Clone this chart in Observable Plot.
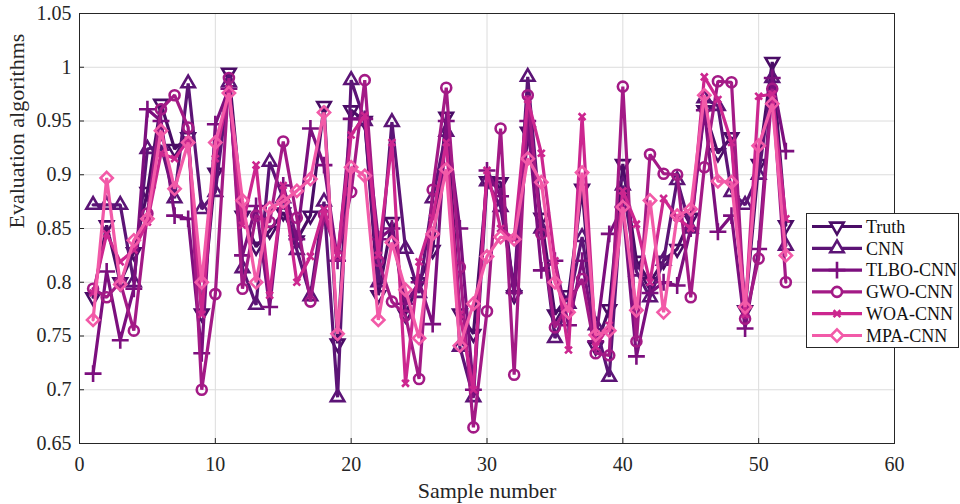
<!DOCTYPE html>
<html><head><meta charset="utf-8">
<script src="https://cdn.jsdelivr.net/npm/d3@7"></script>
<script src="https://cdn.jsdelivr.net/npm/@observablehq/plot@0.6"></script>
<style>
body{margin:0;background:#fff;font-family:"Liberation Serif","DejaVu Serif",serif;}
#wrap{position:relative;width:960px;height:504px;}
#legend{position:absolute;left:806px;top:213px;}
</style>
</head><body>
<div id="wrap"><div id="chart"></div><div id="legend"></div></div>
<script>
const samples = d3.range(1, 53);
const seriesNames = ["Truth","CNN","TLBO-CNN","GWO-CNN","WOA-CNN","MPA-CNN"];
const seriesColors = ["#4a0c66","#5c1476","#7c0f7e","#a31a86","#cc268f","#f25aa8"];
const truth = [0.786,0.853,0.800,0.828,0.884,0.966,0.924,0.935,0.771,0.902,0.995,0.862,0.833,0.848,0.865,0.839,0.862,0.964,0.743,0.960,0.950,0.788,0.856,0.770,0.800,0.830,0.954,0.771,0.752,0.894,0.893,0.788,0.940,0.860,0.770,0.788,0.887,0.740,0.775,0.910,0.820,0.800,0.820,0.831,0.860,0.960,0.920,0.935,0.774,0.910,1.005,0.853];
const cnn = [0.872,0.872,0.872,0.800,0.924,0.927,0.878,0.985,0.868,0.884,0.986,0.813,0.779,0.912,0.878,0.830,0.787,0.875,0.693,0.988,0.950,0.800,0.949,0.831,0.790,0.878,0.940,0.740,0.693,0.894,0.870,0.795,0.991,0.850,0.748,0.780,0.842,0.760,0.712,0.890,0.810,0.786,0.820,0.895,0.850,0.971,0.964,0.884,0.872,0.900,0.990,0.834];
const tlbo = [0.715,0.810,0.746,0.794,0.961,0.950,0.862,0.859,0.734,0.947,0.980,0.825,0.871,0.777,0.890,0.840,0.943,0.909,0.820,0.952,0.952,0.840,0.850,0.780,0.800,0.761,0.950,0.850,0.700,0.904,0.880,0.790,0.950,0.811,0.820,0.760,0.820,0.745,0.845,0.870,0.731,0.790,0.800,0.797,0.850,0.960,0.847,0.862,0.757,0.831,0.990,0.922];
const gwo = [0.794,0.786,0.800,0.755,0.864,0.961,0.974,0.944,0.700,0.789,0.990,0.794,0.862,0.856,0.931,0.860,0.782,0.863,0.825,0.884,0.988,0.820,0.782,0.769,0.710,0.886,0.981,0.814,0.665,0.773,0.943,0.714,0.974,0.845,0.758,0.780,0.803,0.734,0.732,0.982,0.745,0.919,0.901,0.900,0.786,0.907,0.987,0.986,0.766,0.822,0.980,0.800];
const woa = [0.790,0.845,0.819,0.830,0.856,0.920,0.915,0.932,0.770,0.915,0.980,0.853,0.909,0.788,0.890,0.800,0.824,0.868,0.825,0.937,0.955,0.825,0.930,0.706,0.819,0.860,0.930,0.770,0.700,0.904,0.850,0.840,0.970,0.920,0.820,0.737,0.954,0.740,0.760,0.885,0.854,0.800,0.878,0.860,0.850,0.991,0.970,0.930,0.770,0.973,0.975,0.859];
const mpa = [0.765,0.897,0.798,0.839,0.859,0.941,0.887,0.930,0.800,0.930,0.976,0.876,0.800,0.869,0.875,0.885,0.896,0.958,0.752,0.907,0.899,0.765,0.837,0.793,0.748,0.845,0.905,0.741,0.780,0.824,0.842,0.840,0.915,0.893,0.800,0.772,0.902,0.751,0.755,0.870,0.774,0.876,0.772,0.862,0.868,0.974,0.894,0.893,0.777,0.927,0.966,0.825];
const xTicks = [0,10,20,30,40,50,60];
const yTicks = [0.65,0.7,0.75,0.8,0.85,0.9,0.95,1,1.05];
const xLabel = "Sample number";
const yLabel = "Evaluation algorithms";

const downTriangle = {
  draw(context, size) {
    const y = -Math.sqrt(size / (Math.sqrt(3) * 3));
    context.moveTo(0, -y * 2);
    context.lineTo(-Math.sqrt(3) * y, y);
    context.lineTo(Math.sqrt(3) * y, y);
    context.closePath();
  }
};
const symbols = [downTriangle, "triangle", "plus", "circle", "times", "diamond2"];
const radii = [5, 5, 5.5, 5, 3.2, 5.5];
const allValues = [truth, cnn, tlbo, gwo, woa, mpa];
const data = allValues.map((vals, k) => samples.map((s, i) => ({sample: s, value: vals[i], series: seriesNames[k]})));

const marks = [
  Plot.gridX(xTicks, {stroke: "#dcdcdc", strokeOpacity: 1}),
  Plot.gridY(yTicks, {stroke: "#dcdcdc", strokeOpacity: 1}),
  Plot.frame({stroke: "#262626"}),
  Plot.axisX({ticks: xTicks, tickSize: -5, tickPadding: 18, fontSize: 20, label: null, stroke: "#262626"}),
  Plot.axisY({ticks: yTicks, tickSize: -5, tickPadding: 13, fontSize: 20, tickFormat: d => String(+d.toFixed(2)), label: null, stroke: "#262626"}),
  Plot.text([xLabel], {text: d => d, frameAnchor: "bottom", lineAnchor: "middle", dy: 47, fontSize: 22, fill: "#262626"}),
  Plot.text([yLabel], {text: d => d, frameAnchor: "left", lineAnchor: "middle", rotate: -90, dx: -63, fontSize: 22, fill: "#262626"})
];
data.forEach((d, k) => {
  marks.push(Plot.line(d, {x: "sample", y: "value", stroke: seriesColors[k], strokeWidth: 3.2, strokeLinejoin: "miter"}));
  marks.push(Plot.dot(d, {x: "sample", y: "value", stroke: seriesColors[k], strokeWidth: 2.6, fill: k === 4 ? seriesColors[k] : "none", symbol: symbols[k], r: radii[k]}));
});

const chart = Plot.plot({
  width: 960, height: 504,
  marginLeft: 79, marginRight: 66, marginTop: 13, marginBottom: 61,
  style: {fontFamily: "'Liberation Serif', serif", fontSize: "20px", color: "#262626", background: "#fff"},
  x: {domain: [0, 60]},
  y: {domain: [0.65, 1.05]},
  marks
});
document.getElementById("chart").appendChild(chart);

// legend
const lw = 152, lh = 134;
const lsvg = d3.select("#legend").append("svg").attr("width", lw + 2).attr("height", lh + 2);
lsvg.append("rect").attr("x", 0.5).attr("y", 0.5).attr("width", lw).attr("height", lh).attr("fill", "#fff").attr("stroke", "#262626");
const symMap = {triangle: d3.symbolTriangle, plus: d3.symbolPlus, circle: d3.symbolCircle, times: d3.symbolTimes, diamond2: d3.symbolDiamond2};
seriesNames.forEach((name, k) => {
  const cy = 13.5 + k * 21.8;
  const g = lsvg.append("g");
  g.append("line").attr("x1", 6).attr("x2", 56).attr("y1", cy).attr("y2", cy).attr("stroke", seriesColors[k]).attr("stroke-width", 3.2);
  const s = typeof symbols[k] === "string" ? symMap[symbols[k]] : symbols[k];
  g.append("path").attr("transform", `translate(31,${cy})`).attr("d", d3.symbol(s, Math.PI * radii[k] * radii[k])())
    .attr("stroke", seriesColors[k]).attr("stroke-width", 2.6).attr("fill", k === 4 ? seriesColors[k] : "#fff");
  g.append("text").attr("x", 60).attr("y", cy).attr("dy", "0.35em").attr("font-size", 18).attr("fill", "#111").attr("font-family", "'Liberation Serif', serif").text(name);
});
</script>
</body></html>
